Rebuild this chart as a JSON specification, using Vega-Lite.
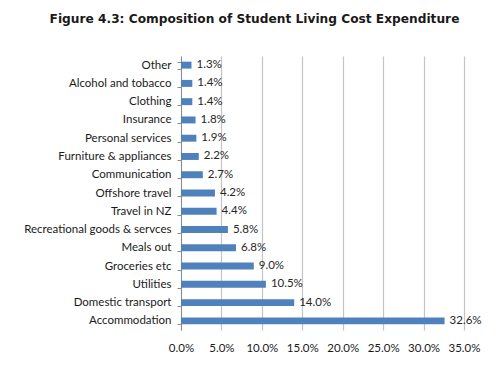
{
  "$schema": "https://vega.github.io/schema/vega-lite/v6.json",
  "autosize": {"type": "none"},
  "width": 283,
  "height": 274,
  "padding": {"left": 181, "top": 56, "right": 36, "bottom": 41},
  "background": "#ffffff",
  "title": {
    "text": "Figure 4.3: Composition of Student Living Cost Expenditure",
    "font": "DejaVu Sans",
    "fontSize": 12.2,
    "fontWeight": "bold",
    "color": "#1a1a1a",
    "anchor": "middle",
    "dx": -68,
    "offset": 25
  },
  "data": {
    "values": [
      {"category": "Other", "share": 0.013},
      {"category": "Alcohol and tobacco", "share": 0.014},
      {"category": "Clothing", "share": 0.014},
      {"category": "Insurance", "share": 0.018},
      {"category": "Personal services", "share": 0.019},
      {"category": "Furniture & appliances", "share": 0.022},
      {"category": "Communication", "share": 0.027},
      {"category": "Offshore travel", "share": 0.042},
      {"category": "Travel in NZ", "share": 0.044},
      {"category": "Recreational goods & servces", "share": 0.058},
      {"category": "Meals out", "share": 0.068},
      {"category": "Groceries etc", "share": 0.09},
      {"category": "Utilities", "share": 0.105},
      {"category": "Domestic transport", "share": 0.14},
      {"category": "Accommodation", "share": 0.326}
    ]
  },
  "encoding": {
    "y": {
      "field": "category",
      "type": "nominal",
      "sort": null,
      "title": null,
      "scale": {"paddingInner": 0.62, "paddingOuter": 0.31},
      "axis": {
        "tickBand": "extent",
        "domainColor": "#8c8c8c",
        "tickColor": "#8c8c8c",
        "tickSize": 4,
        "labelFont": "Lato",
        "labelFontSize": 11.5,
        "labelColor": "#1a1a1a",
        "labelPadding": 6
      }
    },
    "x": {
      "field": "share",
      "type": "quantitative",
      "title": null,
      "scale": {"domain": [0, 0.35], "nice": false},
      "axis": {
        "values": [0, 0.05, 0.1, 0.15, 0.2, 0.25, 0.3, 0.35],
        "format": ".1%",
        "labelOverlap": false,
        "labelFlush": false,
        "domain": false,
        "ticks": false,
        "grid": true,
        "gridColor": "#c4c4c4",
        "gridWidth": 1.2,
        "labelFont": "Lato",
        "labelFontSize": 11.5,
        "labelColor": "#1a1a1a",
        "labelPadding": 12
      }
    }
  },
  "layer": [
    {"mark": {"type": "bar", "color": "#4f81bd"}},
    {
      "mark": {"type": "text", "align": "left", "dx": 5, "font": "Lato", "fontSize": 11.5, "color": "#262626"},
      "encoding": {"text": {"field": "share", "type": "quantitative", "format": ".1%"}}
    }
  ],
  "config": {
    "view": {"stroke": null},
    "axis": {"gridColor": "#c4c4c4"}
  }
}
